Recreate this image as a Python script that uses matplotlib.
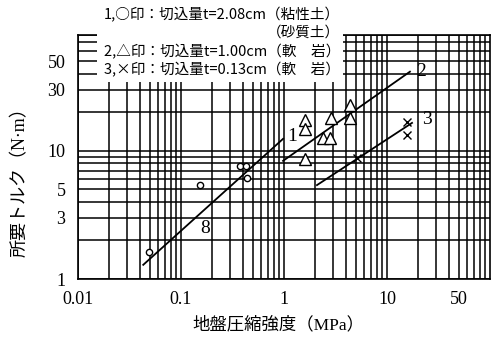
import matplotlib
matplotlib.use('Agg')
import matplotlib.pyplot as plt
from matplotlib.patches import Rectangle
from matplotlib.ticker import FixedLocator, LogLocator, NullFormatter, FixedFormatter

plt.rcParams['font.family'] = ['Liberation Serif', 'Noto Sans CJK JP']

# measured points: circle = 粘性土/砂質土, triangle = 軟岩 t=1.00, cross = 軟岩 t=0.13
circ_x = [0.049, 0.153, 0.37, 0.43, 0.44]
circ_y = [1.63, 5.4, 7.6, 7.6, 6.1]
tri_x = [1.6, 1.6, 1.6, 2.4, 2.8, 2.85, 4.35, 4.35]
tri_y = [17.5, 14.9, 8.7, 12.6, 12.6, 18.1, 22.9, 18.1]
cross_x = [15.6, 15.6, 5.1]
cross_y = [16.9, 13.3, 8.8]

# fitted lines (end points)
fit1_x = [0.043, 0.98]
fit1_y = [1.29, 12.4]
fit2_x = [0.98, 16.7]
fit2_y = [8.35, 41.4]
fit3_x = [2.09, 17.5]
fit3_y = [5.4, 16.5]

xticks = [0.01, 0.1, 1, 10, 50]
xtick_labels = ['0.01', '0.1', '1', '10', '50']
yticks = [1, 3, 5, 10, 30, 50]
ytick_labels = ['1', '3', '5', '10', '30', '50']

legend_lines = ['1,○印：切込量t=2.08cm（粘性土）',
                '（砂質土）',
                '2,△印：切込量t=1.00cm（軟　岩）',
                '3,×印：切込量t=0.13cm（軟　岩）']

W, H = 494, 339
fig = plt.figure(figsize=(W / 100, H / 100), dpi=100)
ax = fig.add_axes([78 / W, 1 - 279 / H, 412 / W, 244 / H])
ax.set_xscale('log')
ax.set_yscale('log')
ax.set_xlim(0.01, 100)
ax.set_ylim(1, 80)

ax.xaxis.set_major_locator(FixedLocator(xticks))
ax.xaxis.set_major_formatter(FixedFormatter(xtick_labels))
ax.xaxis.set_minor_locator(LogLocator(base=10, subs=range(2, 10), numticks=20))
ax.xaxis.set_minor_formatter(NullFormatter())
ax.yaxis.set_major_locator(FixedLocator(yticks))
ax.yaxis.set_major_formatter(FixedFormatter(ytick_labels))
ax.yaxis.set_minor_locator(LogLocator(base=10, subs=range(2, 10), numticks=20))
ax.yaxis.set_minor_formatter(NullFormatter())

ax.grid(which='both', color='black', lw=1.1)
ax.set_axisbelow(True)
ax.tick_params(which='both', length=0, labelsize=13, pad=9)
for s in ax.spines.values():
    s.set_linewidth(1.2)

ax.plot(fit1_x, fit1_y, color='black', lw=1.3, zorder=3)
ax.plot(fit2_x, fit2_y, color='black', lw=1.3, zorder=3)
ax.plot(fit3_x, fit3_y, color='black', lw=1.3, zorder=3)

ax.plot(circ_x, circ_y, 'o', ms=4.5, mfc='white', mec='black', mew=1.0, zorder=4)
ax.plot(tri_x, tri_y, '^', ms=8, mfc='white', mec='black', mew=1.0, zorder=4)
ax.plot(cross_x, cross_y, 'x', ms=6, color='black', mew=1.0, zorder=4)

ax.text(1.2, 12.9, '1', fontsize=14, ha='center', va='center', zorder=5)
ax.text(21.5, 41.4, '2', fontsize=14, ha='center', va='center', zorder=5)
ax.text(24.4, 17.5, '3', fontsize=14, ha='center', va='center', zorder=5)
ax.text(0.171, 2.46, '8', fontsize=14, ha='center', va='center', zorder=5)

# white panel behind the legend text
ax.add_patch(Rectangle((19 / 412, (279 - 82) / 244), (343 - 97) / 412, 0.3,
                       transform=ax.transAxes, facecolor='white', edgecolor='none',
                       clip_on=False, zorder=6))

def px_text(x, y, s, **kw):
    fig.text(x / W, 1 - y / H, s, zorder=7, **kw)

cjk = ['Noto Sans CJK JP', 'DejaVu Sans']
for yy, line in zip([15, 33, 52, 70], legend_lines):
    px_text(340, yy, line, fontsize=10.5, ha='right', va='center', family=cjk)

px_text(278, 325, '地盤圧縮強度（MPa）', fontsize=12.5, ha='center', va='center')
px_text(20, 178, '所要トルク（N·m）', fontsize=13, ha='center', va='center', rotation=90)

fig.savefig('out.png', dpi=100)
